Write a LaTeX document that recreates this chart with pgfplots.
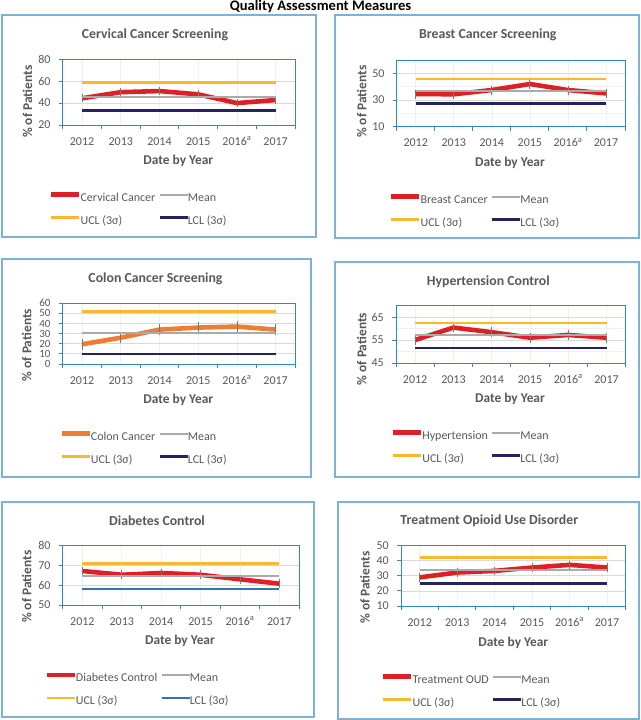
\documentclass[border=0pt]{standalone}
\usepackage{pgfplots}
\pgfplotsset{compat=1.18}
\usepackage{fontspec}
\setmainfont{Carlito}
\definecolor{panelblue}{RGB}{125,178,215}
\definecolor{axblue}{RGB}{50,135,195}
\definecolor{txtgray}{RGB}{89,89,89}
\definecolor{gridgray}{RGB}{217,217,217}
\definecolor{datared}{RGB}{222,32,38}
\definecolor{dataorange}{RGB}{237,125,49}
\definecolor{meangray}{RGB}{170,170,170}
\definecolor{uclgold}{RGB}{250,185,45}
\definecolor{lclnavy}{RGB}{35,35,95}
\definecolor{lclblue}{RGB}{46,117,182}
\definecolor{errgray}{RGB}{120,120,120}
\newcommand{\fs}{\fontsize{12bp}{14bp}\selectfont}
\newcommand{\fst}{\fontsize{13.8bp}{16bp}\selectfont}
\newcommand{\fsl}{\fontsize{13.4bp}{16bp}\selectfont}
\pgfplotsset{
  qam/.style={
    scale only axis,
    anchor=south west,
    xmin=-0.5, xmax=5.5,
    xtick={-0.5,0.5,1.5,2.5,3.5,4.5,5.5},
    xticklabels={2012,2013,2014,2015,2016\textsuperscript{a},2017},
    x tick label as interval,
    minor x tick num=1,
    xminorgrids=true, ymajorgrids=true,
    minor x tick style={draw=none},
    minor grid style={gray!12, line width=0.6bp},
    major grid style={gridgray, line width=0.8bp},
    tick pos=left, tick align=outside,
    major tick length=4bp,
    tick style={axblue, line width=0.9bp},
    axis line style={axblue, line width=0.9bp},
    x tick label style={font=\fs, text=txtgray, anchor=base, inner sep=0pt, yshift=-16bp},
    y tick label style={font=\fs, text=txtgray, anchor=east, inner sep=0pt, xshift=-8bp},
    /pgf/number format/assume math mode=true,
    legend columns=2,
    legend cell align=left,
    legend style={draw=none, fill=none, inner sep=0pt, outer sep=0pt, anchor=north west,
      font=\fs, text=txtgray, row sep=12bp,
      nodes={inner sep=0pt, text height=8.5bp, text depth=2.5bp},
      /tikz/every even column/.append style={column sep=3bp},
      /tikz/every odd column/.append style={column sep=-1bp}},
    legend image code/.code={\draw[##1] (0bp,3.8bp) -- (28bp,3.8bp);},
  },
  dataline/.style 2 args={#1, line width=4.6bp, line join=round,
    error bars/.cd, y dir=both, y fixed=#2,
    error bar style={errgray, line width=0.8bp},
    error mark=-, error mark options={errgray, line width=0.8bp, mark size=2.5bp},
    /pgfplots/.cd},
  meanline/.style={meangray, line width=2bp},
  uclline/.style={uclgold, line width=2.3bp},
  lclline/.style={#1, line width=2.5bp},
}
\tikzset{
  ttl/.style={font=\bfseries\fst, text=txtgray, inner sep=0pt},
  lbl/.style={font=\bfseries\fsl, text=txtgray, inner sep=0pt},
}
\begin{document}
\begin{tikzpicture}
\path[use as bounding box, fill=white] (0,0) rectangle (641bp,-720bp);
\node[font=\bfseries\fontsize{14.6bp}{16bp}\selectfont, inner sep=0pt] at (320.5bp,-6.8bp) {Quality Assessment Measures};
\draw[panelblue, line width=1.2bp] (2bp,-15bp) rectangle (316bp,-237bp);
\draw[panelblue, line width=1.2bp] (335bp,-15bp) rectangle (639bp,-238bp);
\draw[panelblue, line width=1.2bp] (2bp,-259bp) rectangle (311bp,-477bp);
\draw[panelblue, line width=1.2bp] (335bp,-262bp) rectangle (639bp,-477bp);
\draw[panelblue, line width=1.2bp] (2bp,-502bp) rectangle (314bp,-717bp);
\draw[panelblue, line width=1.2bp] (338bp,-502bp) rectangle (639bp,-719bp);

% Panel 1: Cervical
\begin{axis}[qam, at={(62.7bp,-125bp)}, width=232.3bp, height=65.7bp,
  ymin=20, ymax=80, ytick={20,40,60,80},
  legend style={at={(-0.059,-1.024)}}]
\addplot[dataline={datared}{1.5}] coordinates {(0,44.4)(1,50)(2,51)(3,48)(4,40)(5,42.8)};
\addlegendentry{Cervical Cancer}
\addplot[meanline] coordinates {(0,46)(1,46)(2,46)(3,46)(4,46)(5,46)};
\addlegendentry{Mean}
\addplot[uclline] coordinates {(0,58.8)(1,58.8)(2,58.8)(3,58.8)(4,58.8)(5,58.8)};
\addlegendentry{UCL (3σ)}
\addplot[lclline=lclnavy] coordinates {(0,33.2)(1,33.2)(2,33.2)(3,33.2)(4,33.2)(5,33.2)};
\addlegendentry{LCL (3σ)}
\end{axis}
\node[ttl] at (155bp,-35bp) {Cervical Cancer Screening};
\node[lbl] at (178.3bp,-161bp) {Date by Year};
\node[lbl, rotate=90] at (27.5bp,-101.7bp) {\% of Patients};

% Panel 2: Breast
\begin{axis}[qam, at={(396.7bp,-126.7bp)}, width=228.3bp, height=66.7bp,
  ymin=10, ymax=60, ytick={10,30,50}, minor y tick num=1, yminorgrids=true,
  minor y tick style={draw=none},
  legend style={at={(-0.0337,-1.0135)}}]
\addplot[dataline={datared}{1.5}] coordinates {(0,34.5)(1,34.3)(2,37.5)(3,42)(4,37.5)(5,35)};
\addlegendentry{Breast Cancer}
\addplot[meanline] coordinates {(0,36.5)(1,36.5)(2,36.5)(3,36.5)(4,36.5)(5,36.5)};
\addlegendentry{Mean}
\addplot[uclline] coordinates {(0,45.8)(1,45.8)(2,45.8)(3,45.8)(4,45.8)(5,45.8)};
\addlegendentry{UCL (3σ)}
\addplot[lclline=lclnavy] coordinates {(0,27.5)(1,27.5)(2,27.5)(3,27.5)(4,27.5)(5,27.5)};
\addlegendentry{LCL (3σ)}
\end{axis}
\node[ttl] at (487.8bp,-35bp) {Breast Cancer Screening};
\node[lbl] at (510bp,-163.3bp) {Date by Year};
\node[lbl, rotate=90] at (361.7bp,-101.7bp) {\% of Patients};

% Panel 3: Colon
\begin{axis}[qam, at={(62.7bp,-364bp)}, width=232.3bp, height=60.7bp,
  ymin=0, ymax=60, ytick={0,10,20,30,40,50,60},
  y tick label style={font=\fontsize{11bp}{11bp}\selectfont},
  legend style={at={(-0.0146,-1.1087)}}]
\addplot[dataline={dataorange}{3}] coordinates {(0,19.5)(1,26)(2,34)(3,36)(4,37)(5,34)};
\addlegendentry{Colon Cancer}
\addplot[meanline] coordinates {(0,31)(1,31)(2,31)(3,31)(4,31)(5,31)};
\addlegendentry{Mean}
\addplot[uclline] coordinates {(0,52)(1,52)(2,52)(3,52)(4,52)(5,52)};
\addlegendentry{UCL (3σ)}
\addplot[lclline=lclnavy] coordinates {(0,10)(1,10)(2,10)(3,10)(4,10)(5,10)};
\addlegendentry{LCL (3σ)}
\end{axis}
\node[ttl] at (155.5bp,-279.3bp) {Colon Cancer Screening};
\node[lbl] at (178.3bp,-400.3bp) {Date by Year};
\node[lbl, rotate=90] at (26.7bp,-345bp) {\% of Patients};

% Panel 4: Hypertension
\begin{axis}[qam, at={(396bp,-363bp)}, width=229.7bp, height=57.5bp,
  ymin=45, ymax=70, ytick={45,55,65}, minor y tick num=1, yminorgrids=true,
  minor y tick style={draw=none},
  legend style={at={(-0.0231,-1.1704)}}]
\addplot[dataline={datared}{1}] coordinates {(0,55)(1,60.4)(2,58.4)(3,56)(4,57.2)(5,56)};
\addlegendentry{Hypertension}
\addplot[meanline] coordinates {(0,57)(1,57)(2,57)(3,57)(4,57)(5,57)};
\addlegendentry{Mean}
\addplot[uclline] coordinates {(0,62.4)(1,62.4)(2,62.4)(3,62.4)(4,62.4)(5,62.4)};
\addlegendentry{UCL (3σ)}
\addplot[lclline=lclnavy] coordinates {(0,51.6)(1,51.6)(2,51.6)(3,51.6)(4,51.6)(5,51.6)};
\addlegendentry{LCL (3σ)}
\end{axis}
\node[ttl] at (488.3bp,-281.7bp) {Hypertension Control};
\node[lbl] at (510bp,-399bp) {Date by Year};
\node[lbl, rotate=90] at (361.7bp,-349bp) {\% of Patients};

% Panel 5: Diabetes
\begin{axis}[qam, at={(62.7bp,-605bp)}, width=236.3bp, height=59.3bp,
  ymin=50, ymax=80, ytick={50,60,70,80},
  legend style={at={(-0.0779,-1.140)}}]
\addplot[dataline={datared}{1}] coordinates {(0,67.2)(1,65.3)(2,66.2)(3,65.3)(4,63)(5,60.8)};
\addlegendentry{Diabetes Control}
\addplot[meanline] coordinates {(0,64.7)(1,64.7)(2,64.7)(3,64.7)(4,64.7)(5,64.7)};
\addlegendentry{Mean}
\addplot[uclline] coordinates {(0,71)(1,71)(2,71)(3,71)(4,71)(5,71)};
\addlegendentry{UCL (3σ)}
\addplot[lclline=lclblue] coordinates {(0,58)(1,58)(2,58)(3,58)(4,58)(5,58)};
\addlegendentry{LCL (3σ)}
\end{axis}
\node[ttl] at (157bp,-521bp) {Diabetes Control};
\node[lbl] at (180bp,-641.3bp) {Date by Year};
\node[lbl, rotate=90] at (26.7bp,-586.7bp) {\% of Patients};

% Panel 6: OUD
\begin{axis}[qam, at={(401bp,-606bp)}, width=224.7bp, height=60.3bp,
  ymin=10, ymax=50, ytick={10,20,30,40,50},
  legend style={at={(-0.089,-1.1327)}}]
\addplot[dataline={datared}{1.2}] coordinates {(0,29)(1,32.2)(2,33.3)(3,35.5)(4,37.3)(5,35.5)};
\addlegendentry{Treatment OUD}
\addplot[meanline] coordinates {(0,33.8)(1,33.8)(2,33.8)(3,33.8)(4,33.8)(5,33.8)};
\addlegendentry{Mean}
\addplot[uclline] coordinates {(0,42.2)(1,42.2)(2,42.2)(3,42.2)(4,42.2)(5,42.2)};
\addlegendentry{UCL (3σ)}
\addplot[lclline=lclnavy] coordinates {(0,25)(1,25)(2,25)(3,25)(4,25)(5,25)};
\addlegendentry{LCL (3σ)}
\end{axis}
\node[ttl] at (489.3bp,-521bp) {Treatment Opioid Use Disorder};
\node[lbl] at (513.3bp,-642.7bp) {Date by Year};
\node[lbl, rotate=90] at (365bp,-587.5bp) {\% of Patients};
\end{tikzpicture}
\end{document}
